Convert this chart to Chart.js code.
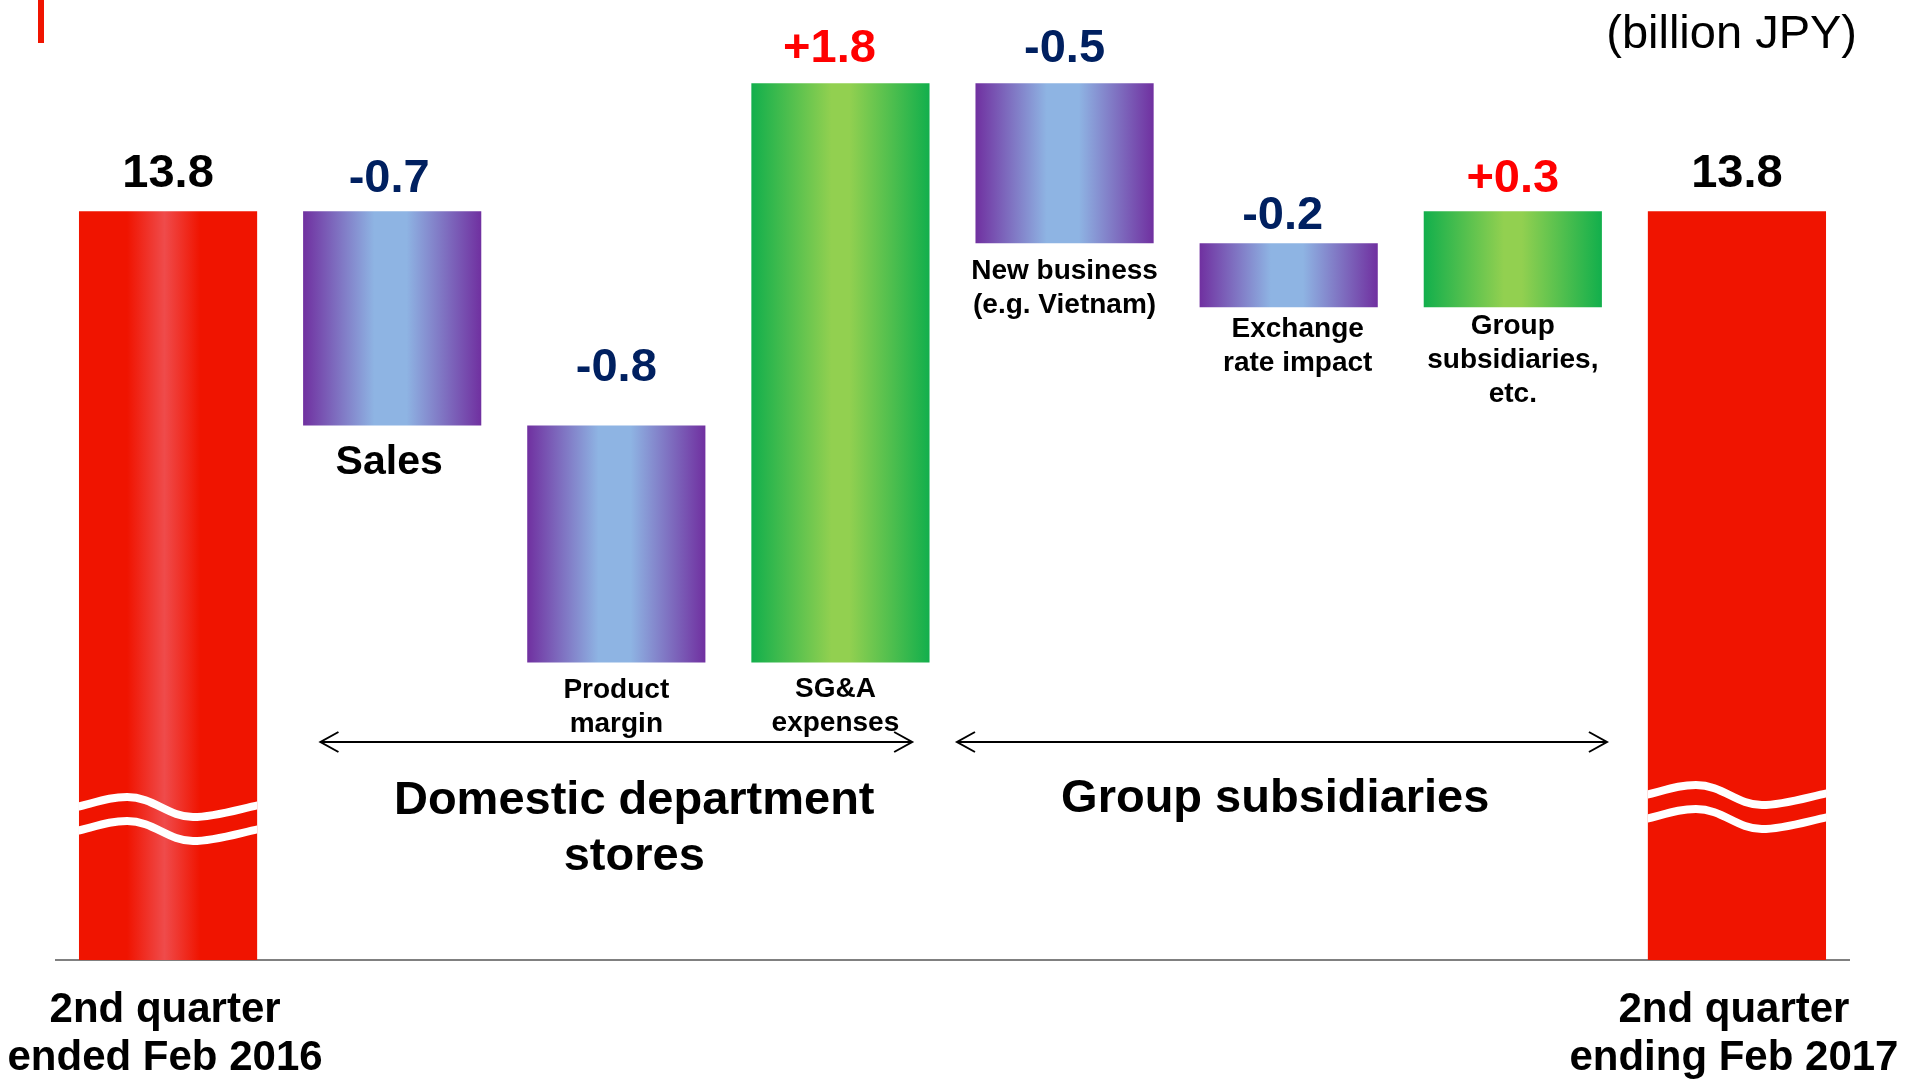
<!DOCTYPE html>
<html>
<head>
<meta charset="utf-8">
<script src="https://cdn.jsdelivr.net/npm/chart.js@4.4.1/dist/chart.umd.min.js"></script>
<style>
  html, body { margin: 0; padding: 0; background: #FFFFFF; overflow: hidden; }
  #wrap { position: relative; width: 1917px; height: 1080px; }
</style>
</head>
<body>
<div id="wrap"><canvas id="bridgeChart"></canvas></div>
<script>
// categories of the bridge (first and last are the totals)
const categories = ['2nd quarter ended Feb 2016', 'Sales', 'Product margin', 'SG&A expenses',
    'New business (e.g. Vietnam)', 'Exchange rate impact', 'Group subsidiaries, etc.', '2nd quarter ending Feb 2017'];
const categoryLines = [
    ['2nd quarter', 'ended Feb 2016'],
    ['Sales'],
    ['Product', 'margin'],
    ['SG&A', 'expenses'],
    ['New business', '(e.g. Vietnam)'],
    ['Exchange', 'rate impact'],
    ['Group', 'subsidiaries,', 'etc.'],
    ['2nd quarter', 'ending Feb 2017']
];

// operating income, billion JPY (floating bars: from -> to)
const barFrom = [null, 13.8, 13.13, 12.39, 14.2, 13.7, 13.5, null];
const barTo = [13.8, 13.13, 12.39, 14.2, 13.7, 13.5, 13.8, 13.8];
const valueLabels = ['13.8', '-0.7', '-0.8', '+1.8', '-0.5', '-0.2', '+0.3', '13.8'];

// scale window (the total bars are broken)
const yMin = 11.46;
const yMax = 14.46;

const BAR_PCT = 0.795;
const FONT = "'Liberation Sans', Arial, sans-serif";
const RED = '#F01400';

// small hand placement of the texts, as on the slide
const valueLift = [24, 19, 45, 21, 21, 14, 19, 24];
const valueNudge = [0, -3, 0, -11, 0, -6, 0, 0];
const labelGap = [0, 37, 28, 27, 28, 22, 19, 0];
const labelNudge = [0, -3, 0, -5, 0, 9, 0, 0];

function barKind(i) {
    if (barFrom[i] === null) return i === 0 ? 'total-shine' : 'total';
    return barTo[i] > barFrom[i] ? 'up' : 'down';
}

function barFill(context) {
    const chart = context.chart;
    const x = chart.scales.x;
    const i = context.dataIndex;
    if (!chart.chartArea || !x || i === undefined) return RED;
    const center = x.getPixelForTick(i);
    const half = (x.getPixelForTick(1) - x.getPixelForTick(0)) * BAR_PCT / 2;
    const g = chart.ctx.createLinearGradient(center - half, 0, center + half, 0);
    const kind = barKind(i);
    if (kind === 'down') {
        g.addColorStop(0, '#7030A0');
        g.addColorStop(0.4, '#8EB4E3');
        g.addColorStop(0.58, '#8EB4E3');
        g.addColorStop(1, '#7030A0');
    } else if (kind === 'up') {
        g.addColorStop(0, '#12AF4C');
        g.addColorStop(0.45, '#92D050');
        g.addColorStop(0.55, '#92D050');
        g.addColorStop(1, '#12AF4C');
    } else if (kind === 'total-shine') {
        g.addColorStop(0, RED);
        g.addColorStop(0.27, RED);
        g.addColorStop(0.48, '#EF4B4B');
        g.addColorStop(0.68, RED);
        g.addColorStop(1, RED);
    } else {
        return RED;
    }
    return g;
}

const bridgeData = categories.map((c, i) => barFrom[i] === null ? barTo[i] : [barFrom[i], barTo[i]]);

// texts, arrows and the break marks
const decorPlugin = {
    id: 'decor',
    afterDatasetsDraw(chart) {
        const { ctx, chartArea } = chart;
        const x = chart.scales.x;
        const meta = chart.getDatasetMeta(0);
        const step = x.getPixelForTick(1) - x.getPixelForTick(0);
        ctx.save();

        // break marks on the total bars
        meta.data.forEach((bar, i) => {
            if (barFrom[i] !== null) return;
            const L = bar.x - bar.width / 2;
            const w = bar.width;
            const y0 = chartArea.bottom - (i === 0 ? 153 : 165);
            ctx.save();
            ctx.beginPath();
            ctx.rect(L, chartArea.top, w, chartArea.bottom - chartArea.top);
            ctx.clip();
            ctx.strokeStyle = '#FFFFFF';
            ctx.lineWidth = 8;
            [0, 24].forEach(dy => {
                const yy = y0 + dy;
                ctx.beginPath();
                ctx.moveTo(L - 2, yy);
                ctx.bezierCurveTo(L + 0.12 * w, yy - 6, L + 0.18 * w, yy - 10, L + 0.27 * w, yy - 10);
                ctx.bezierCurveTo(L + 0.42 * w, yy - 10, L + 0.5 * w, yy + 10, L + 0.64 * w, yy + 10);
                ctx.bezierCurveTo(L + 0.76 * w, yy + 10, L + 0.9 * w, yy + 2, L + w + 2, yy - 2);
                ctx.stroke();
            });
            ctx.restore();
        });

        // value labels
        ctx.textAlign = 'center';
        ctx.textBaseline = 'alphabetic';
        ctx.font = 'bold 47px ' + FONT;
        meta.data.forEach((bar, i) => {
            const top = Math.min(bar.y, bar.base);
            if (barFrom[i] === null) ctx.fillStyle = '#000000';
            else ctx.fillStyle = barTo[i] > barFrom[i] ? '#FF0000' : '#002060';
            ctx.fillText(valueLabels[i], bar.x + valueNudge[i], top - valueLift[i]);
        });

        // category labels under the change bars
        ctx.fillStyle = '#000000';
        ctx.textBaseline = 'middle';
        meta.data.forEach((bar, i) => {
            if (barFrom[i] === null) return;
            const bottom = Math.max(bar.y, bar.base);
            const big = categoryLines[i].length === 1;
            ctx.font = 'bold ' + (big ? 41 : 28) + 'px ' + FONT;
            categoryLines[i].forEach((line, k) => {
                ctx.fillText(line, bar.x + labelNudge[i], bottom + labelGap[i] + k * 34);
            });
        });

        // total labels below the axis
        ctx.font = 'bold 42px ' + FONT;
        [0, 7].forEach(i => {
            categoryLines[i].forEach((line, k) => {
                ctx.fillText(line, x.getPixelForTick(i) - 3, chartArea.bottom + 50 + k * 48);
            });
        });

        // segment arrows
        const arrow = (x1, x2, yy) => {
            ctx.strokeStyle = '#000000';
            ctx.lineWidth = 2;
            ctx.beginPath();
            ctx.moveTo(x1, yy);
            ctx.lineTo(x2, yy);
            ctx.moveTo(x1 + 18, yy - 10);
            ctx.lineTo(x1, yy);
            ctx.lineTo(x1 + 18, yy + 10);
            ctx.moveTo(x2 - 18, yy - 10);
            ctx.lineTo(x2, yy);
            ctx.lineTo(x2 - 18, yy + 10);
            ctx.stroke();
        };
        const arrowY = chartArea.bottom - 218;
        arrow(x.getPixelForTick(1) - 0.32 * step, x.getPixelForTick(3) + 0.32 * step, arrowY);
        arrow(x.getPixelForTick(4) - 0.48 * step, x.getPixelForTick(6) + 0.42 * step, arrowY);

        ctx.font = 'bold 47px ' + FONT;
        ctx.fillStyle = '#000000';
        const domX = x.getPixelForTick(2) + 0.08 * step;
        ctx.fillText('Domestic department', domX, chartArea.bottom - 159);
        ctx.fillText('stores', domX, chartArea.bottom - 103);
        ctx.fillText('Group subsidiaries', x.getPixelForTick(5) - 0.06 * step, chartArea.bottom - 161);

        // unit and corner mark
        ctx.font = '47px ' + FONT;
        ctx.textAlign = 'right';
        ctx.textBaseline = 'alphabetic';
        ctx.fillText('(billion JPY)', 1857, 48);
        ctx.fillStyle = RED;
        ctx.fillRect(38, 0, 6, 43);

        ctx.restore();
    }
};

new Chart(document.getElementById('bridgeChart').getContext('2d'), {
    type: 'bar',
    data: {
        labels: categories,
        datasets: [{
            data: bridgeData,
            backgroundColor: barFill,
            borderWidth: 0,
            categoryPercentage: 1,
            barPercentage: BAR_PCT
        }]
    },
    options: {
        responsive: true,
        maintainAspectRatio: false,
        animation: false,
        layout: { padding: { left: 56, right: 68, top: 0, bottom: 120 } },
        plugins: {
            legend: { display: false },
            tooltip: { enabled: false }
        },
        scales: {
            x: {
                offset: true,
                grid: { display: false, drawTicks: false },
                ticks: { display: false },
                border: { display: true, color: '#808080', width: 2 }
            },
            y: {
                display: false,
                min: yMin,
                max: yMax
            }
        }
    },
    plugins: [decorPlugin]
});
</script>
</body>
</html>
